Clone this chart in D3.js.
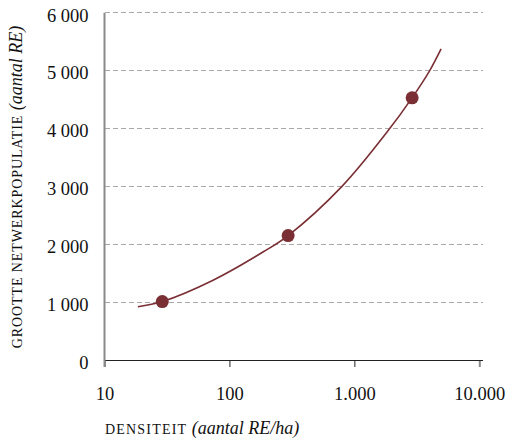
<!DOCTYPE html>
<html>
<head>
<meta charset="utf-8">
<script src="https://cdn.jsdelivr.net/npm/d3@7"></script>
<style>
  body { margin: 0; background: #fff; }
  text { font-family: 'Liberation Serif', 'DejaVu Serif', serif; fill: #111; }
</style>
</head>
<body>
<svg id="chart" width="511" height="444"></svg>
<script>
// Axis ticks
const xTicks = [10, 100, 1000, 10000];
const xTickLabels = ["10", "100", "1.000", "10.000"];
const yTicks = [0, 1000, 2000, 3000, 4000, 5000, 6000];
const yTickLabels = ["0", "1 000", "2 000", "3 000", "4 000", "5 000", "6 000"];

// Observed cases: density (RE/ha) vs network population (RE)
const densiteit = [29, 295, 2900];
const netwerkpopulatie = [1010, 2150, 4530];

// Trend line through the cases
const trendDensiteit = [18.5, 29, 74, 187, 295, 796, 1845, 2895, 4010, 4944];
const trendPopulatie = [919, 1010, 1379, 1870, 2150, 3000, 3950, 4529, 5000, 5374];

const color = "#7a2f34";
const serif = "'Liberation Serif', serif";
const svg = d3.select("#chart");

const x = d3.scaleLog().domain([10, 10000]).range([104.5, 479.3]);
const y = d3.scaleLinear().domain([0, 6000]).range([360, 12.7]);
const plotRight = 483;

// Dashed horizontal gridlines
svg.append("g")
  .selectAll("line")
  .data(yTicks.filter(d => d > 0))
  .join("line")
  .attr("x1", x(10)).attr("x2", plotRight)
  .attr("y1", d => y(d)).attr("y2", d => y(d))
  .attr("stroke", "#a9a9a9")
  .attr("stroke-width", 1)
  .attr("stroke-dasharray", "5,3")
  .attr("shape-rendering", "crispEdges");

// X axis (log scale)
const xAxis = svg.append("g")
  .attr("transform", `translate(0,${y(0)})`)
  .call(d3.axisBottom(x)
    .tickValues(xTicks)
    .tickFormat((d, i) => xTickLabels[i])
    .tickSize(7)
    .tickSizeOuter(0));
xAxis.select(".domain").remove();
xAxis.selectAll(".tick line")
  .attr("stroke", (d, i) => (i === 0 || i === xTicks.length - 1) ? "#8a8a8a" : "#222")
  .attr("stroke-width", (d, i) => (i === 0 || i === xTicks.length - 1) ? 2 : 1);
xAxis.selectAll(".tick text")
  .attr("y", 40).attr("dy", 0)
  .style("font-size", "18.5px")
  .style("font-family", serif)
  .attr("fill", "#111");
xAxis.append("line")
  .attr("x1", x(10)).attr("x2", plotRight)
  .attr("y1", 0).attr("y2", 0)
  .attr("stroke", "#222").attr("stroke-width", 1)
  .attr("shape-rendering", "crispEdges");

// Y axis
const yAxis = svg.append("g")
  .attr("transform", `translate(${x(10)},0)`)
  .call(d3.axisLeft(y)
    .tickValues(yTicks)
    .tickFormat((d, i) => yTickLabels[i])
    .tickSize(0)
    .tickPadding(16));
yAxis.select(".domain").remove();
yAxis.selectAll(".tick text")
  .attr("dy", "0.45em")
  .style("font-size", "18.5px")
  .style("font-family", serif)
  .attr("fill", "#111");
yAxis.append("line")
  .attr("x1", 0).attr("x2", 0)
  .attr("y1", y(6000)).attr("y2", y(0) + 7)
  .attr("stroke", "#8a8a8a").attr("stroke-width", 2);

// Trend line
const trend = trendDensiteit.map((d, i) => [d, trendPopulatie[i]]);
svg.append("path")
  .datum(trend)
  .attr("fill", "none")
  .attr("stroke", color)
  .attr("stroke-width", 1.6)
  .attr("d", d3.line()
    .x(d => x(d[0]))
    .y(d => y(d[1]))
    .curve(d3.curveCatmullRom.alpha(0.5)));

// Points
svg.append("g")
  .selectAll("circle")
  .data(densiteit.map((d, i) => [d, netwerkpopulatie[i]]))
  .join("circle")
  .attr("cx", d => x(d[0]))
  .attr("cy", d => y(d[1]))
  .attr("r", 6.5)
  .attr("fill", color);

// X axis title
const xt = svg.append("text")
  .attr("x", 105).attr("y", 434)
  .style("font-family", serif)
  .style("font-size", "18px");
xt.append("tspan")
  .style("font-size", "14px")
  .style("letter-spacing", "1.2px")
  .text("DENSITEIT");
xt.append("tspan")
  .style("font-style", "italic")
  .text(" (aantal RE/ha)");

// Y axis title
const yt = svg.append("text")
  .attr("transform", "translate(22,187) rotate(-90)")
  .attr("text-anchor", "middle")
  .style("font-family", serif)
  .style("font-size", "18px");
yt.append("tspan")
  .style("font-size", "14px")
  .style("letter-spacing", "0.9px")
  .text("GROOTTE NETWERKPOPULATIE");
yt.append("tspan")
  .style("font-style", "italic")
  .text(" (aantal RE)");
</script>
</body>
</html>
